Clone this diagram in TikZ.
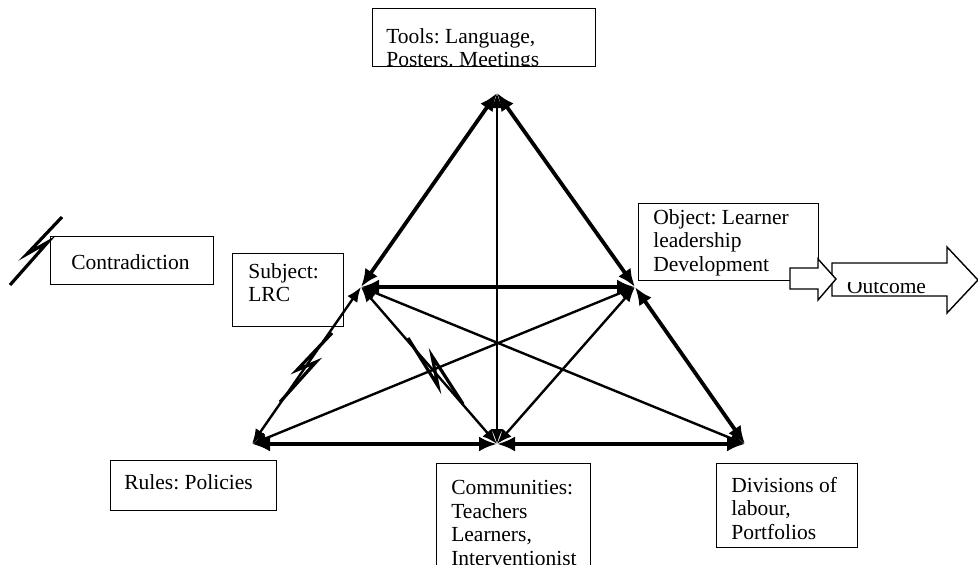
\documentclass[tikz,border=0pt]{standalone}
\usepackage{fontspec}
\setmainfont{Liberation Serif}
\usetikzlibrary{arrows.meta}
\frenchspacing

\newcommand{\cardfont}{\fontsize{21.5}{23.5}\selectfont}

\begin{document}
\begin{tikzpicture}[x=1pt,y=-1pt,line join=miter]
  \tikzstyle{strong}=[line width=3.8pt,{Latex[length=18pt,width=15pt]}-{Latex[length=18pt,width=15pt]}]
  \tikzstyle{weak}=[line width=2.4pt,{Latex[length=15pt,width=12pt]}-{Latex[length=15pt,width=12pt]}]
  \tikzstyle{bolt}=[line width=3.2pt]
  \tikzstyle{fat arrow}=[draw,fill=white,line width=1.4pt]
  \tikzset{card/.style n args={4}{draw,line width=1.3pt,anchor=north west,inner sep=0pt,
      minimum width=#1pt,minimum height=#2pt,
      path picture={\node[draw=none,minimum width=0pt,minimum height=0pt,
          anchor=north west,align=left,inner sep=0pt,font=\cardfont]
        at ([shift={(#3)}]path picture bounding box.north west) {#4};}}}

  \useasboundingbox (0,0) rectangle (978,565);

  % corners of the triangle
  \coordinate (T) at (497,93);
  \coordinate (S) at (361,287);
  \coordinate (O) at (635,287);
  \coordinate (R) at (252,444);
  \coordinate (C) at (497,444);
  \coordinate (D) at (745,444);

  \node[card={223}{58}{13pt,-19pt}{Tools: Language,\\Posters. Meetings}] (tools) at (372,8) {};
  \node[card={163}{48}{20pt,-17pt}{Contradiction}] (contra) at (50,236) {};
  \node[card={111}{73}{15pt,-9pt}{Subject:\\LRC}] (subject) at (232,253) {};
  \node[card={180}{77}{14pt,-5pt}{Object: Learner\\leadership\\Development}] (object) at (638,203) {};
  \node[card={166}{50}{13pt,-13pt}{Rules: Policies}] (rules) at (110,460) {};
  \node[card={154}{130}{14pt,-16pt}{Communities:\\Teachers\\Learners,\\Interventionist}] (community) at (436,463) {};
  \node[card={141}{84}{14pt,-13pt}{Divisions of\\labour,\\Portfolios}] (labour) at (716,463) {};

  \path[strong] (T) edge (S) edge (O)
                (S) edge (O)
                (O) edge (D)
                (R) edge (C)
                (C) edge (D);
  \path[weak]   (T) edge (C)
                (S) edge (R) edge (C) edge (D)
                (O) edge (R) edge (C);

  % contradictions
  \draw[bolt] (62,217) -- (27,254) -- (48,242) -- (10,285);
  \draw[bolt] (332,333) -- (297,370) -- (316,362) -- (280,402);
  \draw[bolt] (408,338) -- (438,386) -- (432,356) -- (463,404);

  % outcome
  \draw[fat arrow] (832,263) -- (947,263) -- (947,247) -- (978,280) -- (947,313) -- (947,296) -- (832,296) -- cycle;
  \draw[fat arrow] (790,268) -- (818,268) -- (818,259) -- (836,279) -- (818,300) -- (818,289) -- (790,289) -- cycle;
  \begin{scope}
    \clip (832,282) rectangle (947,296);
    \node[anchor=base west,font=\cardfont,inner sep=0pt] (outcome) at (847,293) {Outcome};
  \end{scope}
\end{tikzpicture}
\end{document}
